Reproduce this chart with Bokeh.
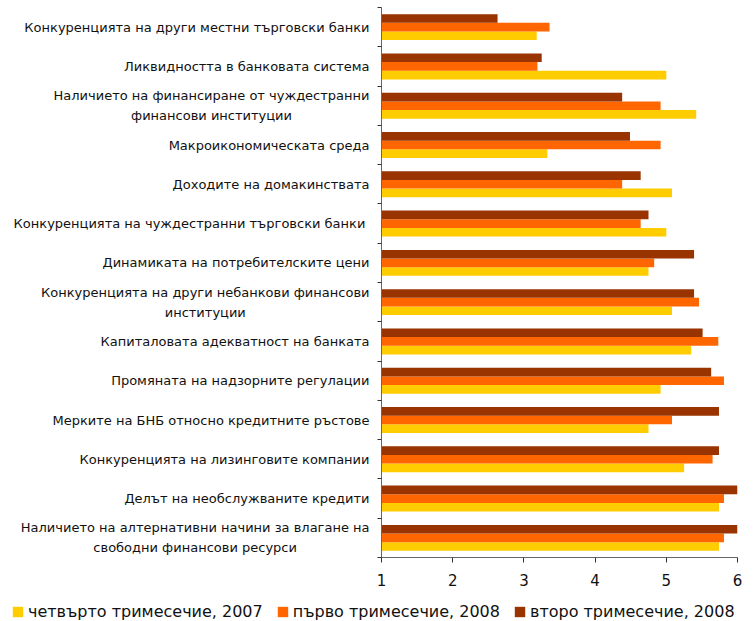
from bokeh.plotting import figure
from bokeh.models import FixedTicker, Range1d, Legend, LegendItem, ColumnDataSource
from bokeh.transform import dodge
from bokeh.layouts import row, column
from bokeh.core.properties import value
from bokeh.embed import file_html
from bokeh.resources import INLINE

categories = [
    "Конкуренцията на други местни търговски банки",
    "Ликвидността в банковата система",
    "Наличието на финансиране от чуждестранни\nфинансови институции",
    "Макроикономическата среда",
    "Доходите на домакинствата",
    "Конкуренцията на чуждестранни търговски банки ",
    "Динамиката на потребителските цени",
    "Конкуренцията на други небанкови финансови\nинституции",
    "Капиталовата адекватност на банката",
    "Промяната на надзорните регулации",
    "Мерките на БНБ относно кредитните ръстове",
    "Конкуренцията на лизинговите компании",
    "Делът на необслужваните кредити",
    "Наличието на алтернативни начини за влагане на\nсвободни финансови ресурси",
]
q4_2007 = [3.18, 5.00, 5.42, 3.33, 5.08, 5.00, 4.75, 5.08, 5.35, 4.92, 4.75, 5.25, 5.74, 5.74]
q1_2008 = [3.36, 3.19, 4.92, 4.92, 4.38, 4.64, 4.83, 5.46, 5.73, 5.81, 5.08, 5.65, 5.81, 5.81]
q2_2008 = [2.63, 3.25, 4.38, 4.49, 4.64, 4.75, 5.39, 5.39, 5.51, 5.63, 5.74, 5.74, 6.00, 6.00]
series_names = ["четвърто тримесечие, 2007", "първо тримесечие, 2008", "второ тримесечие, 2008"]
colors = ["#FFCC00", "#FF6600", "#993300"]
x_ticks = [1, 2, 3, 4, 5, 6]

n = len(categories)
pos = [n - i - 0.5 for i in range(n)]
src = ColumnDataSource(dict(pos=pos, cat=categories, a=q4_2007, b=q1_2008, c=q2_2008))

FONT = "DejaVu Sans"
TEXT_COLOR = "#111111"


def clean(fig):
    fig.xgrid.visible = False
    fig.ygrid.visible = False
    fig.outline_line_color = None
    fig.background_fill_color = "white"
    fig.border_fill_color = "white"


# main bar chart
p = figure(frame_width=356, frame_height=550, output_backend="svg", toolbar_location=None,
           x_range=Range1d(1, 6), y_range=Range1d(0, n),
           min_border_left=10, min_border_right=17, min_border_top=7, min_border_bottom=36)
clean(p)

bw = 0.22
r_a = p.hbar(y=dodge("pos", -bw, range=p.y_range), left=1, right="a", height=bw,
             source=src, fill_color=colors[0], line_color=None)
r_b = p.hbar(y=dodge("pos", 0, range=p.y_range), left=1, right="b", height=bw,
             source=src, fill_color=colors[1], line_color=None)
r_c = p.hbar(y=dodge("pos", bw, range=p.y_range), left=1, right="c", height=bw,
             source=src, fill_color=colors[2], line_color=None)

yax = p.yaxis[0]
yax.ticker = FixedTicker(ticks=[], minor_ticks=[float(i) for i in range(n + 1)])
yax.minor_tick_out = 4
yax.minor_tick_in = 0
yax.minor_tick_line_color = "#333333"
yax.axis_line_color = "#666666"
yax.major_label_text_font_size = "0px"

xax = p.xaxis[0]
xax.ticker = FixedTicker(ticks=x_ticks, minor_ticks=[])
xax.major_tick_out = 5
xax.major_tick_in = 0
xax.major_tick_line_color = "#333333"
xax.axis_line_color = "#666666"
xax.major_label_text_font = FONT
xax.major_label_text_font_size = "15px"
xax.major_label_text_color = TEXT_COLOR
xax.major_label_standoff = 11

# category labels panel
lab = figure(frame_width=371, frame_height=550, output_backend="svg", toolbar_location=None,
             x_range=Range1d(0, 371), y_range=p.y_range,
             x_axis_location=None, y_axis_location=None,
             min_border_left=0, min_border_right=0, min_border_top=7, min_border_bottom=36)
clean(lab)
lab.text(x=369, y="pos", text="cat", source=src,
         text_font=value(FONT), text_font_size="13px", text_color=TEXT_COLOR,
         anchor="center_right", text_align="center", text_baseline="middle",
         text_line_height=1.35)

# legend panel (swatch renderers lie outside its visible range)
leg = figure(frame_width=754, frame_height=28, output_backend="svg", toolbar_location=None,
             x_range=Range1d(-2, -1), y_range=Range1d(0, 1),
             x_axis_location=None, y_axis_location=None,
             min_border=0)
clean(leg)
la = leg.hbar(y="pos", left=1, right="a", height=bw, source=src, fill_color=colors[0], line_color=None)
lb = leg.hbar(y="pos", left=1, right="b", height=bw, source=src, fill_color=colors[1], line_color=None)
lc = leg.hbar(y="pos", left=1, right="c", height=bw, source=src, fill_color=colors[2], line_color=None)
legend = Legend(items=[LegendItem(label=series_names[0], renderers=[la], index=0),
                       LegendItem(label=series_names[1], renderers=[lb], index=0),
                       LegendItem(label=series_names[2], renderers=[lc], index=0)],
                orientation="horizontal", location=(11, 0),
                border_line_color=None, background_fill_alpha=0,
                label_text_font=FONT, label_text_font_size="16px",
                label_text_color=TEXT_COLOR,
                glyph_width=13, glyph_height=13, label_standoff=4, spacing=13,
                padding=0, margin=0)
leg.add_layout(legend, "center")

layout = column(row(lab, p, spacing=0), leg, spacing=0)

open("out.html", "w").write(file_html(layout, INLINE))
